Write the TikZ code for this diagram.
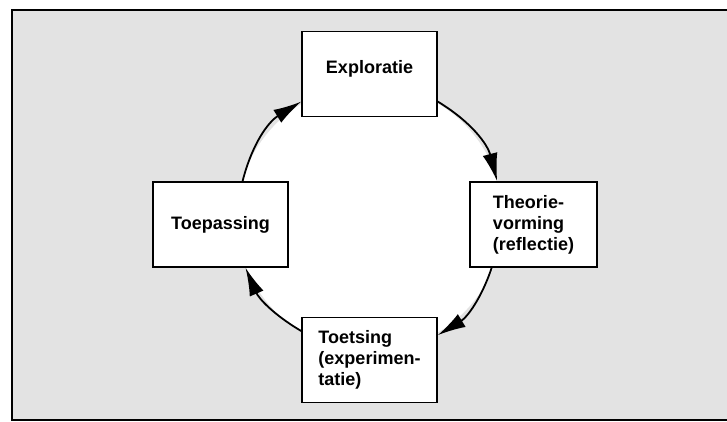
\documentclass[tikz,border=0pt]{standalone}
\usepackage{fontspec}
\setmainfont{Liberation Sans}
\usetikzlibrary{arrows.meta}
\definecolor{achtergrond}{HTML}{E3E3E3}
\tikzset{
  fase/.style={draw, line width=1.6pt, fill=white, minimum width=135pt,
    minimum height=85pt, align=left, font=\bfseries\fontsize{18}{21}\selectfont},
  pijl/.style={line width=1.8pt, -{Latex[length=28pt,width=15pt]}}
}
\begin{document}
\begin{tikzpicture}[x=1pt,y=1pt]
  \useasboundingbox (0,0) rectangle (727,421);
  \draw[line width=2pt, fill=achtergrond] (12,1) rectangle (740,411);
  \fill[white] (370,203) circle[radius=133pt];
  \node[fase, text depth=14pt] (expl) at (369.5,347) {Exploratie};
  \node[fase, minimum width=127pt] (theo) at (533.5,196.5) {Theorie-\\vorming\\(reflectie)};
  \node[fase] (toets) at (369.5,61) {Toetsing\\(experimen-\\tatie)};
  \node[fase] (toep) at (220.5,196.5) {Toepassing};
  \draw[pijl] (toep.63) to[bend left=22] (expl.202);
  \draw[pijl] (expl.-22) to[bend left=22] (theo.130);
  \draw[pijl] (theo.226) to[bend left=20] (toets.20);
  \draw[pijl] (toets.157) to[bend left=18] (toep.-60);
\end{tikzpicture}
\end{document}
